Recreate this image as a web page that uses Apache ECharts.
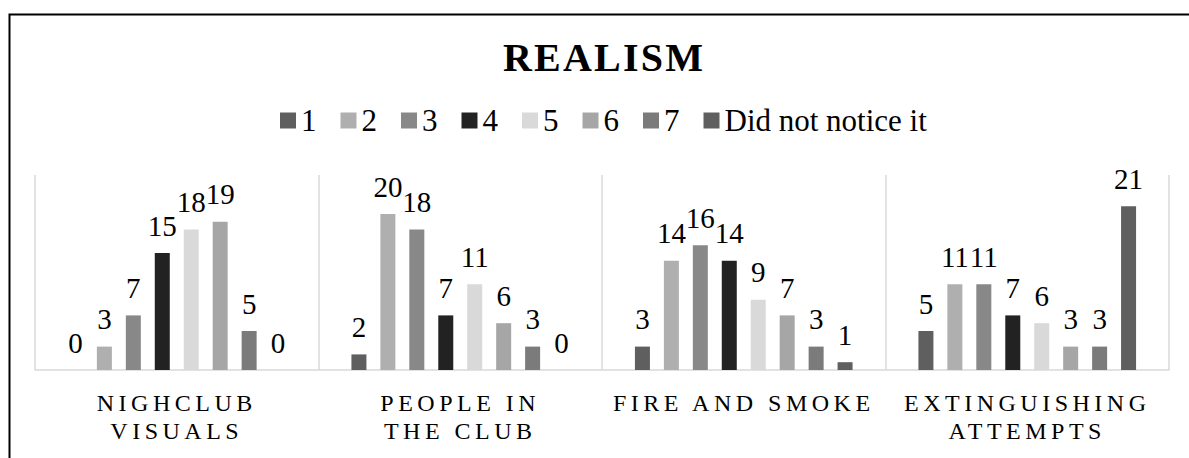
<!DOCTYPE html>
<html>
<head>
<meta charset="utf-8">
<script src="https://cdn.jsdelivr.net/npm/echarts@6/dist/echarts.min.js"></script>
<style>
  html, body { margin: 0; padding: 0; background: #fff; }
  #chart { width: 1189px; height: 458px; }
  #chart text[style*="24px"] { letter-spacing: 4.5px; }
  #chart text[style*="40px"] { letter-spacing: 2.2px; }
</style>
</head>
<body>
<div id="chart"></div>
<script>
const categories = ['NIGHCLUB\nVISUALS', 'PEOPLE IN\nTHE CLUB', 'FIRE AND SMOKE', 'EXTINGUISHING\nATTEMPTS'];
const seriesNames = ['1', '2', '3', '4', '5', '6', '7', 'Did not notice it'];
const s1 = [0, 2, 3, 5];
const s2 = [3, 20, 14, 11];
const s3 = [7, 18, 16, 11];
const s4 = [15, 7, 14, 7];
const s5 = [18, 11, 9, 6];
const s6 = [19, 6, 7, 3];
const s7 = [5, 3, 3, 3];
const sDid = [0, 0, 1, 21];
const seriesValues = [s1, s2, s3, s4, s5, s6, s7, sDid];
const colors = ['#5f5f5f', '#afafaf', '#888888', '#222222', '#d9d9d9', '#a6a6a6', '#7b7b7b', '#5f5f5f'];

const FONT = 'Liberation Serif';

const chart = echarts.init(document.getElementById('chart'), null, { renderer: 'svg' });
chart.setOption({
  animation: false,
  color: colors,
  title: {
    text: 'REALISM',
    left: 498,
    top: 32,
    textStyle: { fontFamily: FONT, fontSize: 40, fontWeight: 'bold', color: '#000' }
  },
  legend: {
    top: 100,
    left: 275,
    itemWidth: 16,
    itemHeight: 16,
    itemGap: 24,
    icon: 'rect',
    textStyle: { fontFamily: FONT, fontSize: 31, color: '#000' },
    data: seriesNames
  },
  graphic: [{
    type: 'rect',
    left: 7, top: 12,
    shape: { width: 1400, height: 700 },
    style: { fill: 'none', stroke: '#000', lineWidth: 2 },
    silent: true
  }],
  grid: { left: 35, right: 20, top: 175, bottom: 88, containLabel: false },
  xAxis: {
    type: 'category',
    data: categories,
    axisLine: { lineStyle: { color: '#d9d9d9', width: 1.5 } },
    axisTick: { show: false },
    splitLine: { show: true, lineStyle: { color: '#d9d9d9', width: 1.5 } },
    axisLabel: {
      fontFamily: FONT, fontSize: 24, color: '#000',
      margin: 19, lineHeight: 28, interval: 0
    }
  },
  yAxis: {
    type: 'value',
    min: 0, max: 25,
    show: false,
    splitLine: { show: false }
  },
  series: seriesValues.map((vals, i) => ({
    name: seriesNames[i],
    type: 'bar',
    data: vals,
    barWidth: 15,
    barGap: '93%',
    itemStyle: { color: colors[i] },
    label: {
      show: true,
      position: 'top',
      distance: 13,
      fontFamily: FONT,
      fontSize: 29,
      color: '#000'
    }
  }))
});
</script>
</body>
</html>
